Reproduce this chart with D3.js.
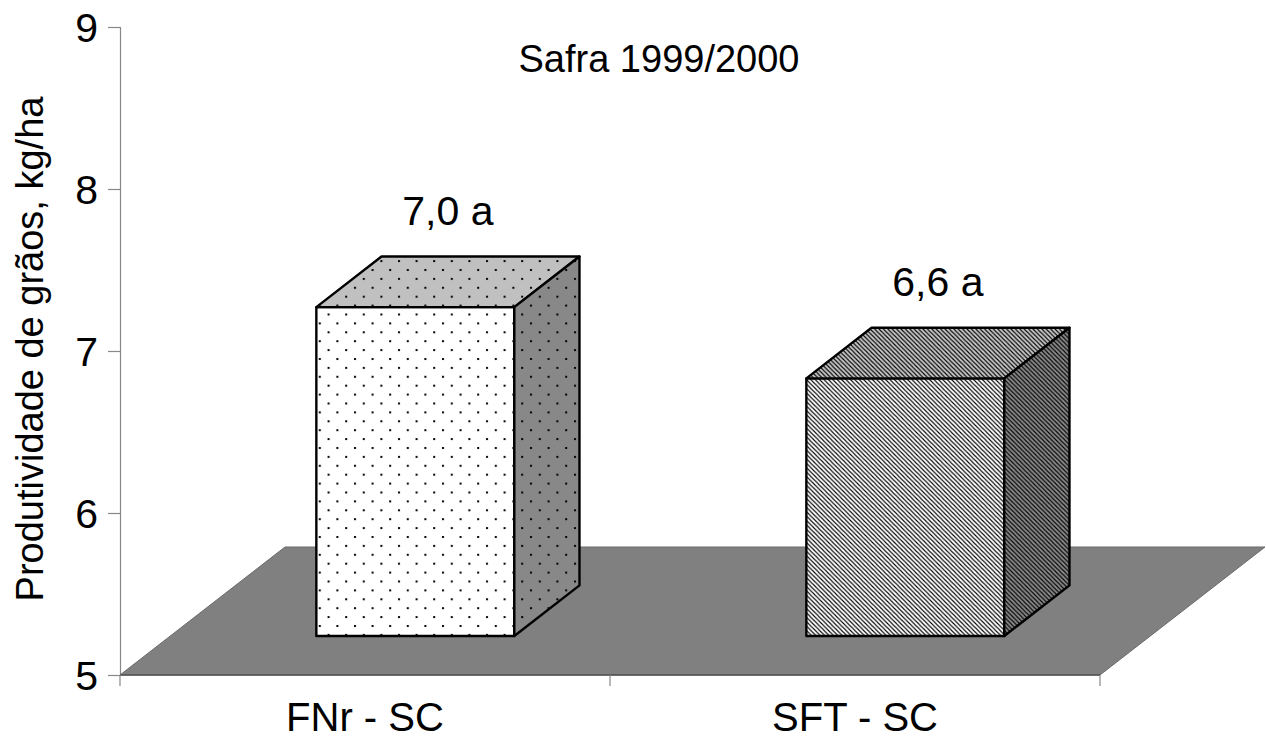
<!DOCTYPE html>
<html>
<head>
<meta charset="utf-8">
<script src="https://cdn.jsdelivr.net/npm/d3@7"></script>
<style>
  html, body { margin: 0; padding: 0; background: #fff; }
  svg { display: block; font-family: "Liberation Sans", Arial, sans-serif; }
</style>
</head>
<body>
<svg id="chart" width="1266" height="740"></svg>
<script>
// ---- data ----
const categories = ["FNr - SC", "SFT - SC"];
const values = [7.03, 6.59];
const valueLabels = ["7,0 a", "6,6 a"];
const yTicks = [5, 6, 7, 8, 9];
const titleText = "Safra 1999/2000";
const yTitle = "Produtividade de grãos, kg/ha";

// ---- layout ----
const svg = d3.select("#chart");
const plotLeft = 120, plotRight = 1100, plotTop = 27, plotBottom = 675;
const depth = { x: 165, y: -128 };      // floor depth offset
const t0 = 0.305, t1 = 0.70;            // bar depth span (fraction of floor depth)
const barFrac = 0.404;

const y = d3.scaleLinear().domain([5, 9]).range([plotBottom, plotTop]);
const x = d3.scaleBand().domain(categories).range([plotLeft, plotRight]).padding(0);

// ---- patterns ----
const defs = svg.append("defs");
function dotPattern(id, bg) {
  const p = defs.append("pattern").attr("id", id).attr("patternUnits", "userSpaceOnUse")
    .attr("width", 17.6).attr("height", 17.8);
  p.append("rect").attr("width", 17.6).attr("height", 17.8).attr("fill", bg);
  p.append("rect").attr("x", 2).attr("y", 2).attr("width", 2).attr("height", 2).attr("fill", "#000");
  p.append("rect").attr("x", 10.8).attr("y", 10.9).attr("width", 2).attr("height", 2).attr("fill", "#000");
}
function hatchPattern(id, bg) {
  const s = 4.4;
  const p = defs.append("pattern").attr("id", id).attr("patternUnits", "userSpaceOnUse")
    .attr("width", s).attr("height", s);
  p.append("rect").attr("width", s).attr("height", s).attr("fill", bg);
  p.append("path").attr("d", `M-1,-1 L${s+1},${s+1} M${-s-1},-1 L1,${s+1} M${s-1},-1 L${2*s+1},${s+1}`)
    .attr("stroke", "#000").attr("stroke-width", 1.1);
}
dotPattern("dotFront", "#ffffff");
dotPattern("dotTop", "#c0c0c0");
dotPattern("dotSide", "#888888");
hatchPattern("hatchFront", "#ffffff");
hatchPattern("hatchTop", "#c8c8c8");
hatchPattern("hatchSide", "#8a8a8a");
const fills = [
  { front: "url(#dotFront)", top: "url(#dotTop)", side: "url(#dotSide)" },
  { front: "url(#hatchFront)", top: "url(#hatchTop)", side: "url(#hatchSide)" }
];

// ---- floor ----
const floorPts = [
  [plotLeft, plotBottom], [plotRight, plotBottom],
  [plotRight + depth.x, plotBottom + depth.y], [plotLeft + depth.x, plotBottom + depth.y]
];
svg.append("path")
  .attr("d", d3.line()(floorPts) + "Z")
  .attr("fill", "#808080").attr("stroke", "#6a6a6a").attr("stroke-width", 1);

// ---- bars ----
const line = d3.line();
categories.forEach((c, i) => {
  const w = x.bandwidth() * barFrac;
  const cx = x(c) + x.bandwidth() / 2;
  const fx0 = cx - w / 2 + t0 * depth.x, fx1 = cx + w / 2 + t0 * depth.x;
  const fyBase = y(5) + t0 * depth.y;
  const fyTop = y(values[i]) + t0 * depth.y;
  const dx = (t1 - t0) * depth.x, dy = (t1 - t0) * depth.y;
  const g = svg.append("g");
  const sw = 2.4;
  g.append("path").attr("d", line([[fx0, fyTop], [fx1, fyTop], [fx1, fyBase], [fx0, fyBase]]) + "Z")
    .attr("fill", fills[i].front).attr("stroke", "#000").attr("stroke-width", sw).attr("stroke-linejoin", "round");
  g.append("path").attr("d", line([[fx0, fyTop], [fx0 + dx, fyTop + dy], [fx1 + dx, fyTop + dy], [fx1, fyTop]]) + "Z")
    .attr("fill", fills[i].top).attr("stroke", "#000").attr("stroke-width", sw).attr("stroke-linejoin", "round");
  g.append("path").attr("d", line([[fx1, fyTop], [fx1 + dx, fyTop + dy], [fx1 + dx, fyBase + dy], [fx1, fyBase]]) + "Z")
    .attr("fill", fills[i].side).attr("stroke", "#000").attr("stroke-width", sw).attr("stroke-linejoin", "round");
  svg.append("text")
    .attr("x", (fx0 + fx1) / 2 + dx / 2)
    .attr("y", fyTop + dy - 32)
    .attr("text-anchor", "middle")
    .attr("font-size", 41)
    .attr("fill", "#000")
    .text(valueLabels[i]);
});

// ---- y axis ----
const yAxis = d3.axisLeft(y).tickValues(yTicks).tickFormat(d3.format("d")).tickSize(12).tickPadding(10);
const yg = svg.append("g").attr("transform", `translate(${plotLeft},0)`).call(yAxis);
yg.select(".domain").attr("stroke", "#888").attr("stroke-width", 1.2);
yg.selectAll(".tick line").attr("stroke", "#888").attr("stroke-width", 1.2);
yg.selectAll(".tick text").attr("font-size", 41).attr("fill", "#000")
  .attr("font-family", "'Liberation Sans', Arial, sans-serif").attr("dy", "0.36em");

// ---- x axis ----
const xg = svg.append("g");
xg.append("line").attr("x1", plotLeft).attr("x2", plotRight).attr("y1", plotBottom).attr("y2", plotBottom)
  .attr("stroke", "#555").attr("stroke-width", 1.4);
const edges = categories.map(c => x(c)).concat([x(categories[categories.length - 1]) + x.bandwidth()]);
xg.selectAll("line.tk").data(edges).join("line").attr("class", "tk")
  .attr("x1", d => d).attr("x2", d => d).attr("y1", plotBottom).attr("y2", plotBottom + 11)
  .attr("stroke", "#888").attr("stroke-width", 1.2);
xg.selectAll("text").data(categories).join("text")
  .attr("x", d => x(d) + x.bandwidth() / 2)
  .attr("y", 731)
  .attr("text-anchor", "middle")
  .attr("font-size", 40)
  .attr("fill", "#000")
  .text(d => d);

// ---- titles ----
svg.append("text").attr("x", 659).attr("y", 72).attr("text-anchor", "middle")
  .attr("font-size", 38).attr("fill", "#000").text(titleText);
svg.append("text").attr("transform", "translate(43,349) rotate(-90)")
  .attr("text-anchor", "middle").attr("font-size", 38).attr("fill", "#000").text(yTitle);
</script>
</body>
</html>
